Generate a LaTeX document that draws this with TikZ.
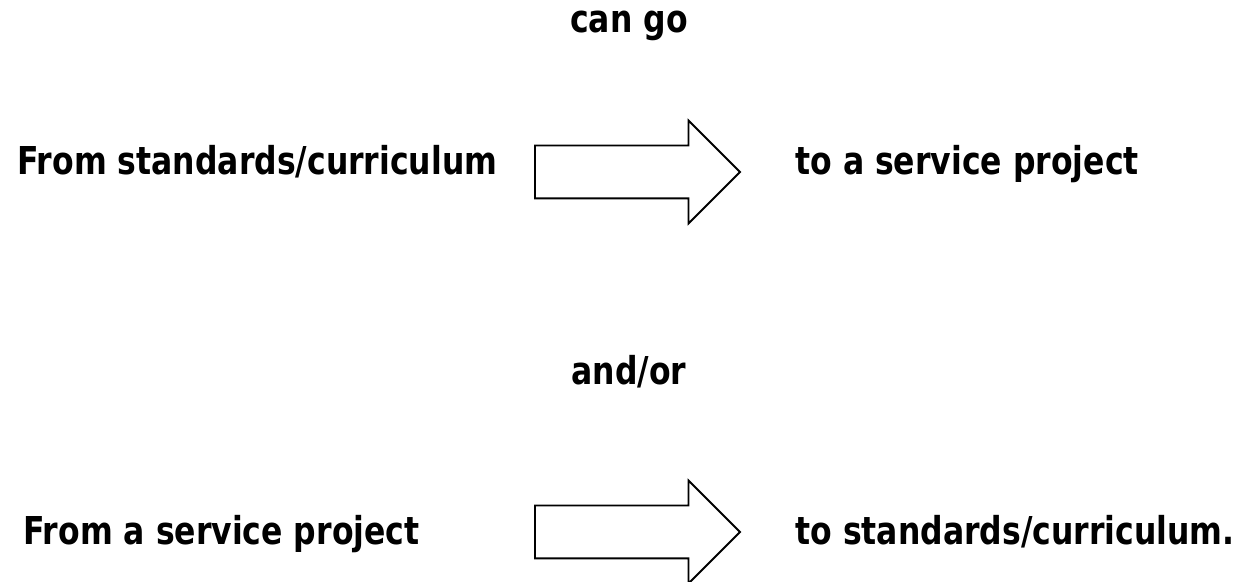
\documentclass[tikz,border=0pt]{standalone}
\usepackage{fontspec}
\setmainfont{DejaVu Sans}[FakeStretch=0.82]
\usetikzlibrary{shapes.arrows,positioning}

\begin{document}
\begin{tikzpicture}[x=0.5pt, y=-0.5pt,
  txt/.style={inner sep=0pt, font=\fontsize{19.2pt}{23pt}\selectfont\bfseries},
  arrowbox/.style={single arrow, draw, line width=0.95pt, inner xsep=0pt, inner ysep=12.75pt, minimum height=102.5pt, minimum width=50.5pt, single arrow head extend=12.5pt, anchor=tail}]

    \useasboundingbox (0,0) rectangle (1249,582);

    \node[txt, anchor=base] (cango) at (629,33) {can go};
    \node[arrowbox] (arrow1) at (534,172) {};
    \node[txt, anchor=base west] (from1) at (17,175) {From standards/curriculum};
    \node[txt, anchor=base west] (to1) at (795,175) {to a service project};

    \node[txt, anchor=base] (andor) at (629,385) {and/or};

    \node[arrowbox] (arrow2) at (534,532) {};
    \node[txt, anchor=base west] (from2) at (23,545) {From a service project};
    \node[txt, anchor=base west] (to2) at (795,545) {to standards/curriculum.};

  \end{tikzpicture}
\end{document}
